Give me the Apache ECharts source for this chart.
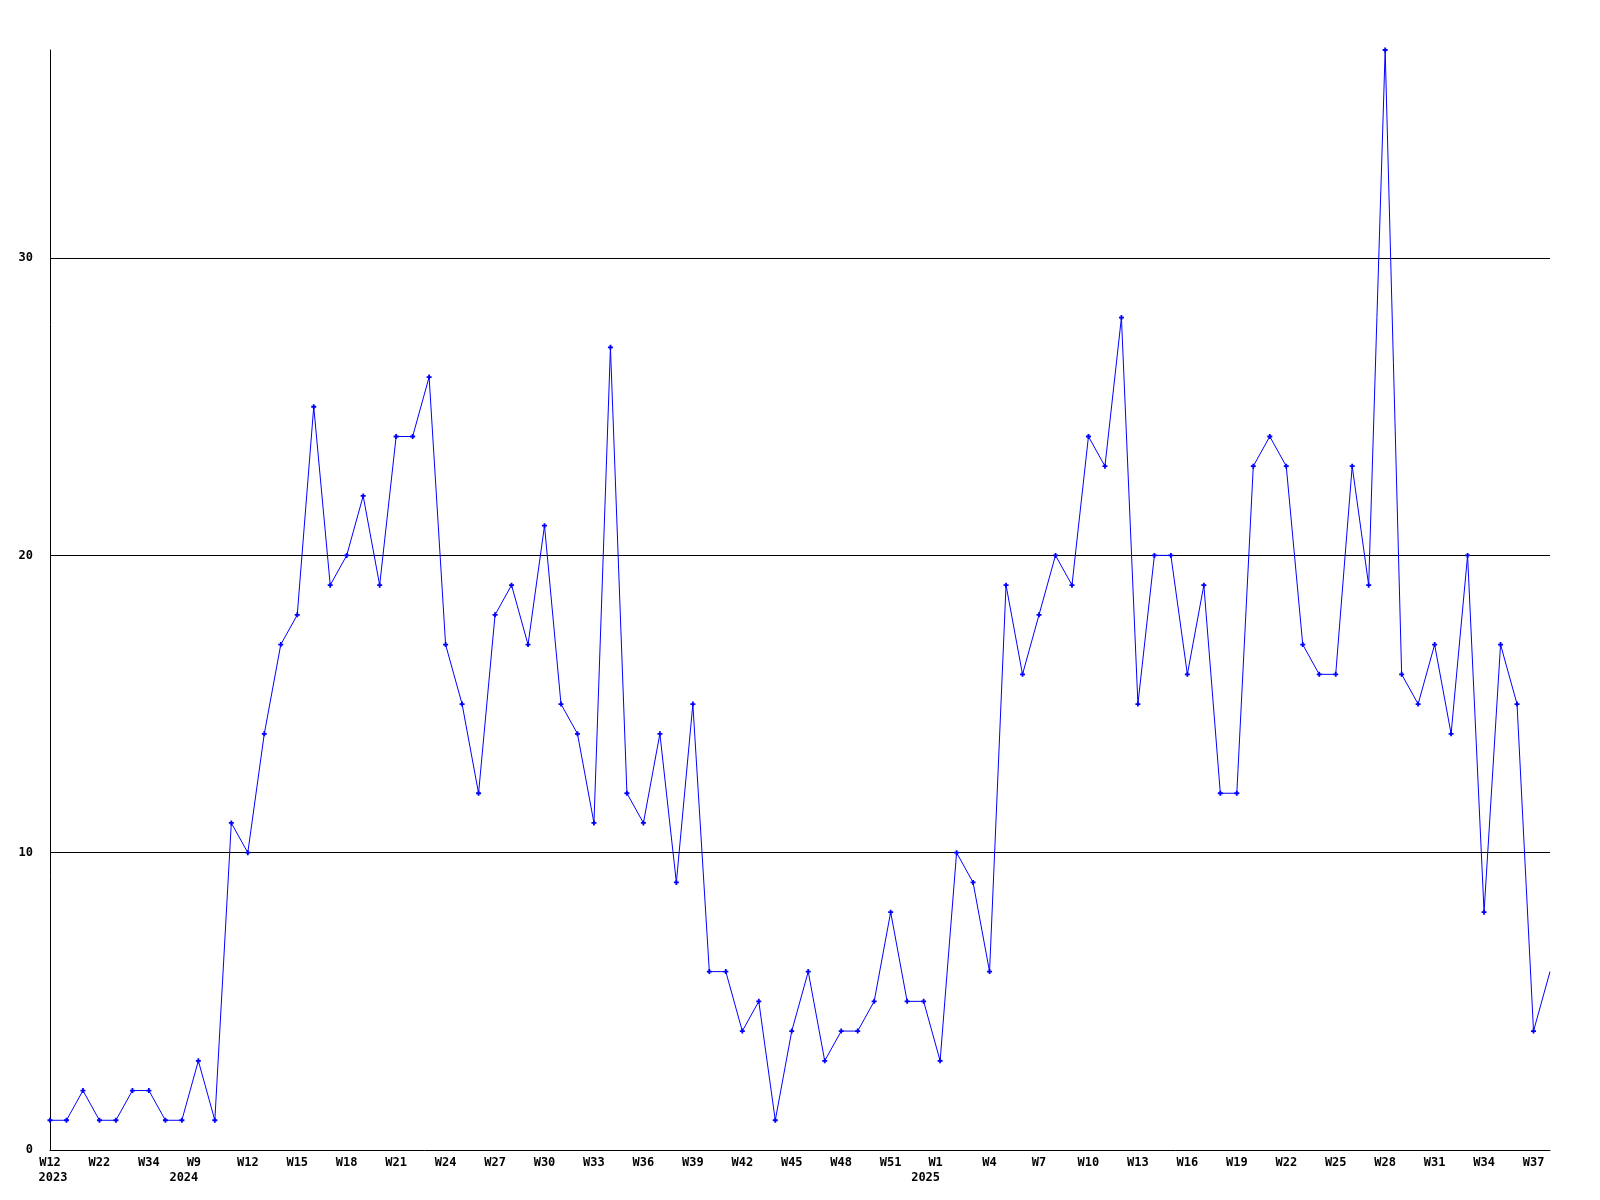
<!DOCTYPE html>
<html>
<head>
<meta charset="utf-8">
<script src="https://cdn.jsdelivr.net/npm/echarts@6/dist/echarts.min.js"></script>
<style>
html,body{margin:0;padding:0;background:#fff;}
#chart{width:1600px;height:1200px;}
</style>
</head>
<body>
<div id="chart"></div>
<script>
const weeks2023 = ['W12','W15','W19','W22','W25','W29','W34','W40','W48'];
const weeks2024 = [];
for (let w = 9; w <= 53; w++) weeks2024.push('W' + w);
const weeks2025 = [];
for (let w = 1; w <= 38; w++) weeks2025.push('W' + w);

const categories = []
  .concat(weeks2023.map(w => '2023-' + w))
  .concat(weeks2024.map(w => '2024-' + w))
  .concat(weeks2025.map(w => '2025-' + w));

const values = [
  1, 1, 2, 1, 1, 2, 2, 1, 1, 3,
  1, 11, 10, 14, 17, 18, 25, 19, 20, 22,
  19, 24, 24, 26, 17, 15, 12, 18, 19, 17,
  21, 15, 14, 11, 27, 12, 11, 14, 9, 15,
  6, 6, 4, 5, 1, 4, 6, 3, 4, 4,
  5, 8, 5, 5, 3, 10, 9, 6, 19, 16,
  18, 20, 19, 24, 23, 28, 15, 20, 20, 16,
  19, 12, 12, 23, 24, 23, 17, 16, 16, 23,
  19, 37, 16, 15, 17, 14, 20, 8, 17, 15,
  4, 6
];

const yTicks = [0, 10, 20, 30];

const markerPath = 'path://M1.6,0L3.4,0L3.4,1.6L5,1.6L5,3.4L3.4,3.4L3.4,5L1.6,5L1.6,3.4L0,3.4L0,1.6L1.6,1.6Z';
const seriesData = values.map((v, i) => i === values.length - 1
  ? { value: v, symbol: 'none' }
  : v);

const font = '"DejaVu Sans Mono", "Liberation Mono", monospace';
const chart = echarts.init(document.getElementById('chart'));
chart.setOption({
  animation: false,
  backgroundColor: '#ffffff',
  grid: { left: 50, right: 50, top: 50, bottom: 50, containLabel: false },
  xAxis: {
    type: 'category',
    data: categories,
    boundaryGap: false,
    axisLine: { show: true, lineStyle: { color: '#000', width: 1 } },
    axisTick: { show: false },
    splitLine: { show: false },
    axisLabel: {
      interval: 2,
      margin: 5,
      color: '#000',
      fontFamily: font,
      fontWeight: 'bold',
      fontSize: 12,
      lineHeight: 15,
      rich: {
        w: { fontFamily: font, fontWeight: 'bold', fontSize: 12, lineHeight: 15, color: '#000' },
        wy: { fontFamily: font, fontWeight: 'bold', fontSize: 12, lineHeight: 15, color: '#000', padding: [0, 9, 0, 0] },
        y: { fontFamily: font, fontWeight: 'bold', fontSize: 12, lineHeight: 15, color: '#000', padding: [0, 29, 0, 0] },
        y0: { fontFamily: font, fontWeight: 'bold', fontSize: 12, lineHeight: 15, color: '#000', padding: [0, 0, 0, 6] }
      },
      formatter: function (val, idx) {
        const parts = val.split('-');
        const prev = idx >= 3 ? categories[idx - 3].split('-')[0] : null;
        if (parts[0] === prev) return '{w|' + parts[1] + '}';
        if (idx === 0) return '{w|' + parts[1] + '}\n{y0|' + parts[0] + '}';
        return '{wy|' + parts[1] + '}\n{y|' + parts[0] + '}';
      }
    }
  },
  yAxis: {
    type: 'value',
    min: 0,
    max: 37,
    interval: 10,
    axisLine: { show: true, lineStyle: { color: '#000', width: 1 } },
    axisTick: { show: false },
    splitLine: { show: true, showMaxLine: false, showMinLine: false, lineStyle: { color: '#000', width: 1 } },
    axisLabel: {
      margin: 17,
      color: '#000',
      fontFamily: font,
      fontWeight: 'bold',
      fontSize: 12,
      showMaxLabel: false,
      formatter: function (v) { return yTicks.indexOf(v) >= 0 ? String(v) : ''; }
    }
  },
  series: [{
    type: 'line',
    data: seriesData,
    symbol: markerPath,
    symbolSize: 5,
    showAllSymbol: true,
    lineStyle: { color: '#0000ff', width: 1 },
    itemStyle: { color: '#0000ff', borderWidth: 0 },
    emphasis: { disabled: true }
  }]
});
</script>
</body>
</html>
